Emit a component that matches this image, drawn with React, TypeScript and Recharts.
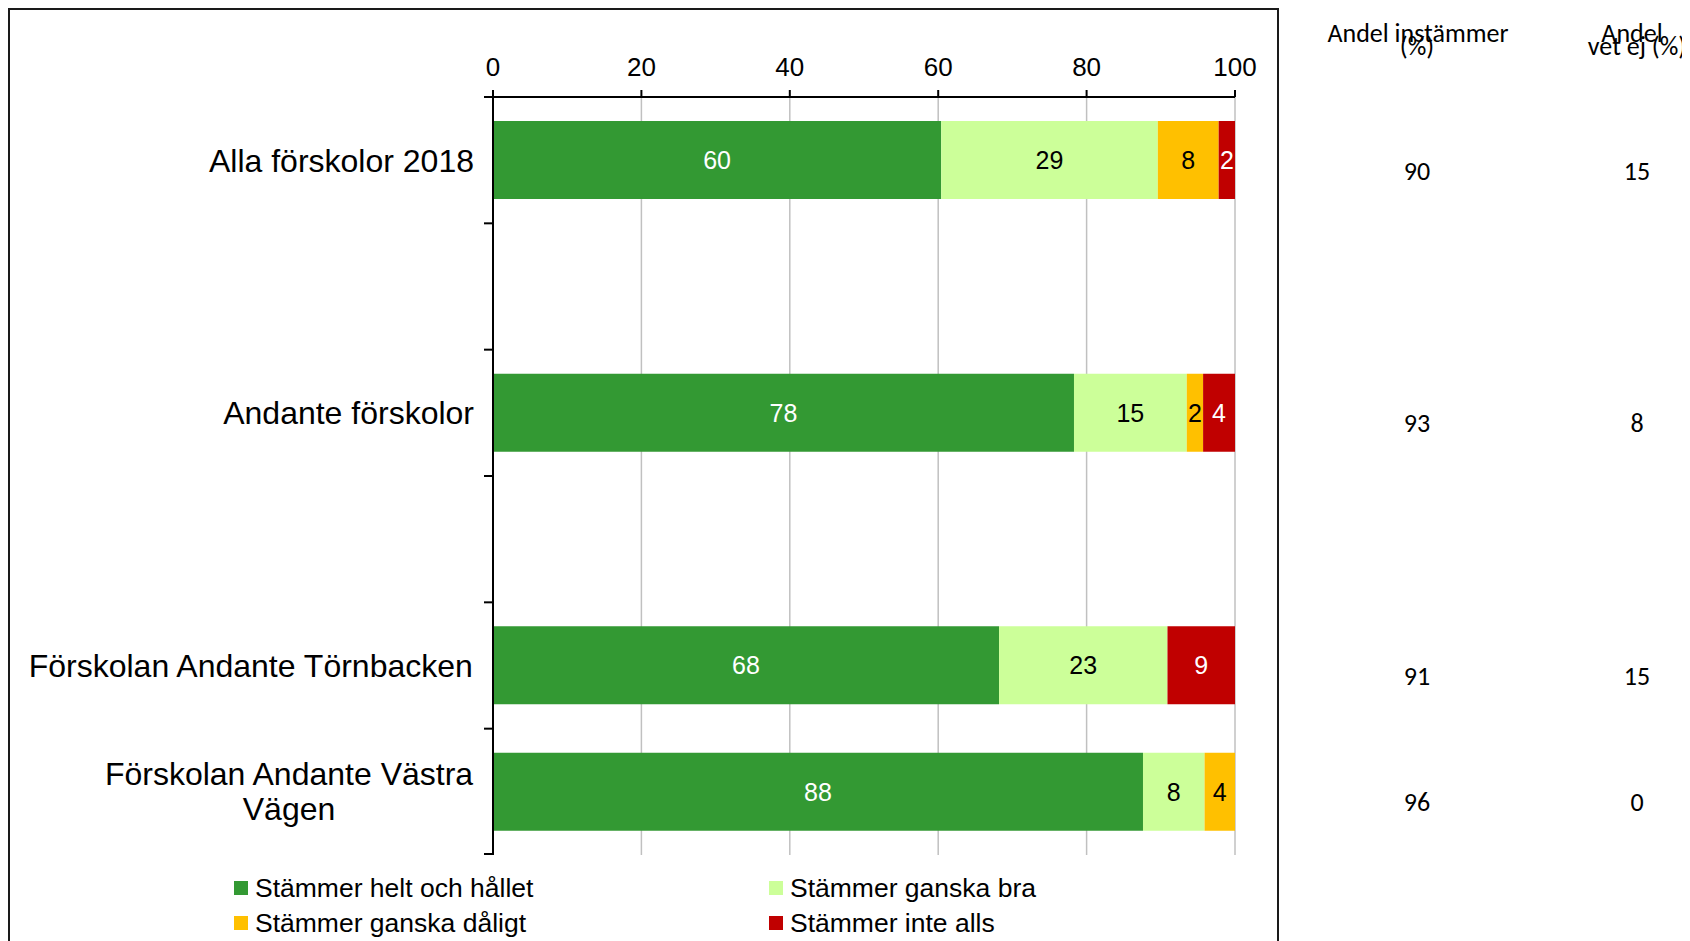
import React from 'react'
import { Bar, BarChart, CartesianGrid, LabelList, Legend, XAxis, YAxis } from 'recharts'

// slots 2 and 4 are empty spacer rows in the original chart
const categories = [
  'Alla förskolor 2018',
  '',
  'Andante förskolor',
  '',
  'Förskolan Andante Törnbacken',
  'Förskolan Andante Västra Vägen',
]

const seriesNames = ['Stämmer helt och hållet', 'Stämmer ganska bra', 'Stämmer ganska dåligt', 'Stämmer inte alls']
const seriesColors = ['#339933', '#CCFF99', '#FFC000', '#C00000']
const labelColors = ['#ffffff', '#000000', '#000000', '#ffffff']

const heltOchHallet = [60.4, null, 78.3, null, 68.2, 87.6]
const ganskaBra = [29.2, null, 15.2, null, 22.7, 8.3]
const ganskaDaligt = [8.2, null, 2.2, null, 0, 4.1]
const inteAlls = [2.2, null, 4.3, null, 9.1, 0]

const andelInstammer = [90, null, 93, null, 91, 96]
const andelVetEj = [15, null, 8, null, 15, 0]

const xTicks = [0, 20, 40, 60, 80, 100]

const seriesValues = [heltOchHallet, ganskaBra, ganskaDaligt, inteAlls]

const rows = categories.map((name, i) => ({
  id: i,
  name,
  s0: heltOchHallet[i],
  s1: ganskaBra[i],
  s2: ganskaDaligt[i],
  s3: inteAlls[i],
  instammer: andelInstammer[i],
  vetEj: andelVetEj[i],
}))

const FONT = '"Liberation Sans", Arial, sans-serif'
const SIDE_FONT = 'Carlito, Calibri, Lato, sans-serif'
const CAT_SIZE = 32
const CAT_MARGIN = 19

let ctx: CanvasRenderingContext2D | null = null
function textWidth(text: string, size: number) {
  if (!ctx) ctx = document.createElement('canvas').getContext('2d')
  if (!ctx) return text.length * size * 0.55
  ctx.font = `${size}px ${FONT}`
  return ctx.measureText(text).width
}

function wrap(label: string, maxWidth: number, size: number) {
  const words = label.split(' ')
  const lines: string[] = []
  let cur = ''
  for (const w of words) {
    const next = cur ? cur + ' ' + w : w
    if (cur && textWidth(next, size) > maxWidth) {
      lines.push(cur)
      cur = w
    } else {
      cur = next
    }
  }
  if (cur) lines.push(cur)
  return lines
}

// labels at band centres, tick marks on the band borders (Excel style)
function CategoryTick(props: any) {
  const { x, y, payload, index } = props
  const half = payload && payload.offset > 5 ? payload.offset : 63
  const axisX = x + CAT_MARGIN
  const label = categories[payload.value] || ''
  const lines = label ? wrap(label, 460, CAT_SIZE) : []
  const maxW = lines.length ? Math.max(...lines.map((l) => textWidth(l, CAT_SIZE))) : 0
  const lineHeight = 35
  const lastIdx = categories.length - 1
  const last = Number(payload.value) === lastIdx || index === lastIdx || payload.index === lastIdx
  return (
    <g>
      <line x1={axisX - 9} x2={axisX} y1={y - half} y2={y - half} stroke="#000" strokeWidth={2} />
      {last && <line x1={axisX - 9} x2={axisX + 1} y1={y + half - 1} y2={y + half - 1} stroke="#000" strokeWidth={2} />}
      {lines.map((line, i) => (
        <text
          key={i}
          x={x - maxW / 2}
          y={y + (i - (lines.length - 1) / 2) * lineHeight - (lines.length > 1 ? 1 : 0)}
          dy="0.355em"
          textAnchor="middle"
          fontSize={CAT_SIZE}
          fontFamily={FONT}
          fill="#000"
        >
          {line}
        </text>
      ))}
    </g>
  )
}

function ValueTick(props: any) {
  const { x, y, payload } = props
  const row = rows[payload.value]
  if (!row || row.instammer == null) return null
  const style = { fontSize: 26, fontFamily: SIDE_FONT, fill: '#000' }
  return (
    <g>
      <text x={x + 182} y={y + 10} dy="0.36em" textAnchor="middle" {...style}>
        {row.instammer}
      </text>
      <text x={x + 402} y={y + 10} dy="0.36em" textAnchor="middle" {...style}>
        {row.vetEj}
      </text>
    </g>
  )
}

const legendCols = [226, 761]
const legendRowCenters = [33, 68]

function LegendContent(props: any) {
  const items = [...(props.payload || [])].sort(
    (a: any, b: any) => seriesNames.indexOf(a.value) - seriesNames.indexOf(b.value),
  )
  return (
    <div style={{ position: 'relative', height: 78 }}>
      {items.map((p: any, i: number) => (
        <div
          key={i}
          style={{
            position: 'absolute',
            left: legendCols[i % 2],
            top: legendRowCenters[Math.floor(i / 2)] - 17,
            height: 34,
            display: 'flex',
            alignItems: 'center',
            whiteSpace: 'nowrap',
          }}
        >
          <span style={{ width: 14, height: 14, background: p.color, marginRight: 7, display: 'inline-block' }} />
          <span style={{ fontSize: 26.5, fontFamily: FONT, color: '#000', lineHeight: '34px' }}>{p.value}</span>
        </div>
      ))}
    </div>
  )
}

const fmt = (v: any) => (v ? Math.round(Number(v)) : '')

export default function App() {
  return (
    <div style={{ position: 'relative', width: 1674, height: 933 }}>
      <style>{'html,body{overflow:hidden}'}</style>
      <BarChart
        width={1674}
        height={925}
        data={rows}
        layout="vertical"
        barSize={78}
        margin={{ top: 0, right: 0, bottom: 0, left: 0 }}
      >
        <CartesianGrid vertical horizontal={false} yAxisId="cat" stroke="#c0c0c0" strokeWidth={1.5} />
        <XAxis
          type="number"
          orientation="top"
          domain={[0, 100]}
          ticks={xTicks}
          interval={0}
          height={89}
          tickSize={7}
          tickMargin={14}
          allowDataOverflow
          axisLine={{ stroke: '#000', strokeWidth: 2 }}
          tickLine={{ stroke: '#000', strokeWidth: 2 }}
          tick={{ fontSize: 26, fill: '#000', fontFamily: FONT }}
        />
        <YAxis
          yAxisId="cat"
          type="category"
          dataKey="id"
          width={485}
          interval={0}
          axisLine={{ stroke: '#000', strokeWidth: 2 }}
          tickLine={false}
          tickSize={0}
          tickMargin={CAT_MARGIN}
          tick={<CategoryTick />}
        />
        <YAxis
          yAxisId="right"
          orientation="right"
          type="category"
          dataKey="id"
          width={447}
          interval={0}
          axisLine={false}
          tickLine={false}
          tickSize={0}
          tickMargin={0}
          tick={<ValueTick />}
        />
        {seriesValues.map((_, k) => (
          <Bar
            key={k}
            dataKey={`s${k}`}
            name={seriesNames[k]}
            stackId="a"
            yAxisId="cat"
            fill={seriesColors[k]}
            isAnimationActive={false}
          >
            <LabelList
              dataKey={`s${k}`}
              position="center"
              formatter={fmt}
              fill={labelColors[k]}
              fontSize={25}
              fontFamily={FONT}
            />
          </Bar>
        ))}
        <Legend
          verticalAlign="bottom"
          content={<LegendContent />}
          wrapperStyle={{ left: 0, bottom: 0, width: 1674, height: 78 }}
        />
      </BarChart>
      <svg
        width={1682}
        height={80}
        style={{ position: 'absolute', left: 0, top: 0, overflow: 'visible', pointerEvents: 'none' }}
      >
        <g fontFamily={SIDE_FONT} fontSize={26} fill="#000" textAnchor="middle">
          <text x={1410} y={33.7}>Andel instämmer</text>
          <text x={1409} y={47}>(%)</text>
          <text x={1624} y={33.7}>Andel</text>
          <text x={1629} y={47}>vet ej (%)</text>
        </g>
      </svg>
      <div
        style={{
          position: 'absolute',
          left: 0,
          top: 0,
          width: 1271,
          height: 933,
          boxSizing: 'border-box',
          borderTop: '2px solid #1a1a1a',
          borderLeft: '2px solid #1a1a1a',
          borderRight: '2px solid #1a1a1a',
          pointerEvents: 'none',
        }}
      />
    </div>
  )
}
